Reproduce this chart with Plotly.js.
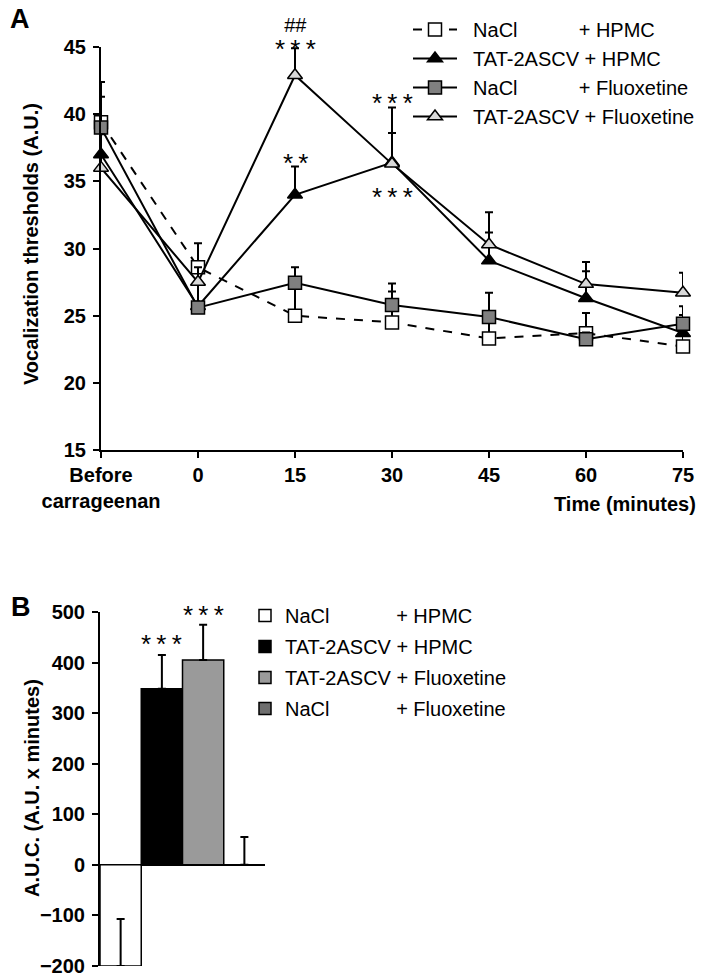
<!DOCTYPE html>
<html>
<head>
<meta charset="utf-8">
<script src="https://cdn.plot.ly/plotly-3.0.1.min.js"></script>
<style>html,body{margin:0;padding:0;background:#fff;}#chart{width:708px;height:980px;}</style>
</head>
<body>
<div id="chart"></div>
<script>
// ---------- Panel A data ----------
var timeLabels = ['Before<br>carrageenan', '0', '15', '30', '45', '60', '75'];

var naclHpmc      = [39.4, 28.6, 25.0, 24.5, 23.3, 23.7, 22.7];
var naclHpmcErr   = [3.0, 1.8, 2.4, 2.3, 1.5, 1.5, 1.0];

var tatHpmc       = [37.0, 25.7, 34.0, 36.4, 29.1, 26.3, 23.7];
var tatHpmcErr    = [2.0, 1.8, 2.1, 2.2, 2.1, 2.0, 1.35];

var naclFluox     = [39.0, 25.6, 27.45, 25.8, 24.9, 23.25, 24.4];
var naclFluoxErr  = [2.3, 1.9, 1.15, 1.6, 1.8, 0.5, 1.3];

var tatFluox      = [36.0, 27.5, 42.9, 36.3, 30.3, 27.35, 26.7];
var tatFluoxErr   = [2.5, 1.1, 2.0, 4.2, 2.4, 1.65, 1.5];

var NB = '\u00A0';
var PAD_A = NB.repeat(11);
var PAD_B = NB.repeat(12);
var legendA = [
  NB + NB + 'NaCl' + PAD_A + '+ HPMC',
  NB + NB + 'TAT-2ASCV + HPMC',
  NB + NB + 'NaCl' + PAD_A + '+ Fluoxetine',
  NB + NB + 'TAT-2ASCV + Fluoxetine'
];

// ---------- Panel B data ----------
var aucGroups = ['NaCl + HPMC', 'TAT-2ASCV + HPMC', 'TAT-2ASCV + Fluoxetine', 'NaCl + Fluoxetine'];
var aucValues = [-200, 348, 405, 0];
var aucErr    = [93, 67, 70, 55];
var legendB = [
  'NaCl' + PAD_B + '+ HPMC',
  'TAT-2ASCV + HPMC',
  'TAT-2ASCV + Fluoxetine',
  'NaCl' + PAD_B + '+ Fluoxetine'
];
var aucColors = ['#ffffff', '#000000', '#9a9a9a', '#6e6e6e'];

var FONT = 'Liberation Sans, Arial, sans-serif';

function lineTrace(y, err, name, symbol, fill, dash, group) {
  return {
    type: 'scatter', mode: 'lines+markers',
    x: timeLabels, y: y, name: name,
    xaxis: 'x', yaxis: 'y', legend: 'legend', legendgroup: group,
    cliponaxis: false,
    line: {color: '#000', width: 2, dash: dash},
    marker: {symbol: symbol, size: 13, color: fill, line: {color: '#000', width: 1.5}},
    error_y: {type: 'data', array: err, arrayminus: err.map(function(){return 0;}), symmetric: false,
              color: '#000', thickness: 2, width: 4}
  };
}

var traces = [
  lineTrace(naclHpmc, naclHpmcErr, legendA[0], 'square', '#ffffff', 'dash', 'a1'),
  lineTrace(tatHpmc, tatHpmcErr, legendA[1], 'triangle-up', '#000000', 'solid', 'a2'),
  lineTrace(naclFluox, naclFluoxErr, legendA[2], 'square', '#808080', 'solid', 'a3'),
  lineTrace(tatFluox, tatFluoxErr, legendA[3], 'triangle-up', '#d9d9d9', 'solid', 'a4')
];

for (var i = 0; i < aucGroups.length; i++) {
  traces.push({
    type: 'bar', x: [aucGroups[i]], y: [aucValues[i]], name: legendB[i],
    xaxis: 'x2', yaxis: 'y2', legend: 'legend2', legendgroup: 'b' + i,
    width: 1,
    marker: {color: aucColors[i], line: {color: '#000', width: 1.5}},
    error_y: {type: 'data', array: [aucErr[i]], arrayminus: [0], symmetric: false,
              color: '#000', thickness: 2, width: 4}
  });
}

var boldTick = {family: FONT, size: 20, color: '#000', weight: 'bold'};
var STARS = '*\u2009*\u2009*';
var ann = function(x, y, text, xref, yref, size, extra) {
  var a = {x: x, y: y, xref: xref, yref: yref, text: text, showarrow: false,
           xanchor: 'center', yanchor: 'middle',
           font: {family: FONT, size: size, color: '#000'}};
  for (var k in (extra || {})) a[k] = extra[k];
  return a;
};
var boldFont = function(s) { return {family: FONT, size: s, weight: 'bold', color: '#000'}; };

var layout = {
  width: 708, height: 980,
  margin: {l: 0, r: 0, t: 0, b: 0},
  paper_bgcolor: '#fff', plot_bgcolor: 'rgba(0,0,0,0)',
  font: {family: FONT, color: '#000'},
  barmode: 'overlay',
  showlegend: true,
  xaxis: {
    domain: [101/708, 683/708], anchor: 'y', type: 'category', range: [0, 6],
    showline: true, linecolor: '#000', linewidth: 2, ticks: 'outside', ticklen: 6, tickwidth: 2,
    tickcolor: '#000', showgrid: false, zeroline: false, tickfont: boldTick
  },
  yaxis: {
    domain: [1 - 450/980, 1 - 47/980], anchor: 'x', range: [15, 45], dtick: 5,
    showline: true, linecolor: '#000', linewidth: 2, ticks: 'outside', ticklen: 6, tickwidth: 2,
    tickcolor: '#000', showgrid: false, zeroline: false, tickfont: boldTick, ticklabelstandoff: 3
  },
  xaxis2: {
    domain: [100/708, 265/708], anchor: 'y2', type: 'category', range: [-0.5, 3.5],
    showline: false, ticks: '', showticklabels: false, showgrid: false, zeroline: false
  },
  yaxis2: {
    domain: [1 - 966/980, 1 - 612/980], anchor: 'x2', range: [-200, 500], dtick: 100,
    showline: true, linecolor: '#000', linewidth: 2, ticks: 'outside', ticklen: 6, tickwidth: 2,
    tickcolor: '#000', showgrid: false, zeroline: true, zerolinecolor: '#000', zerolinewidth: 2,
    tickfont: boldTick, ticklabelstandoff: 3
  },
  legend: {
    x: 408/708, y: 1 - 10/980, xanchor: 'left', yanchor: 'top',
    font: {family: FONT, size: 20, color: '#000'}, bgcolor: 'rgba(0,0,0,0)',
    itemwidth: 44, tracegroupgap: 0, traceorder: 'normal'
  },
  legend2: {
    x: 245/708, y: 1 - 596/980, xanchor: 'left', yanchor: 'top',
    font: {family: FONT, size: 20, color: '#000'}, bgcolor: 'rgba(0,0,0,0)',
    tracegroupgap: 2, traceorder: 'grouped'
  },
  annotations: [
    ann(8/708, 1 - 19/980, 'A', 'paper', 'paper', 26, {xanchor: 'left', font: boldFont(27)}),
    ann(9/708, 1 - 607/980, 'B', 'paper', 'paper', 26, {xanchor: 'left', font: boldFont(27)}),
    ann(698/708, 1 - 504/980, 'Time (minutes)', 'paper', 'paper', 20, {xanchor: 'right', font: boldFont(20)}),
    ann(31/708, 1 - 244/980, 'Vocalization thresholds (A.U.)', 'paper', 'paper', 20, {textangle: -90, font: boldFont(20)}),
    ann(32/708, 1 - 788/980, 'A.U.C. (A.U. x minutes)', 'paper', 'paper', 20, {textangle: -90, font: boldFont(20)}),
    ann(2, 1 - 12/980, '##<br><span style="font-size:26px">' + STARS + '</span>', 'x', 'paper', 20, {yanchor: 'top'}),
    ann(2, 36.4, '*\u2009*', 'x', 'y', 26),
    ann(3, 40.8, STARS, 'x', 'y', 26),
    ann(3, 33.8, STARS, 'x', 'y', 26),
    ann('TAT-2ASCV + HPMC', 437, STARS, 'x2', 'y2', 26),
    ann('TAT-2ASCV + Fluoxetine', 494, STARS, 'x2', 'y2', 26)
  ]
};

Plotly.newPlot('chart', traces, layout, {displayModeBar: false, staticPlot: true});
</script>
</body>
</html>
